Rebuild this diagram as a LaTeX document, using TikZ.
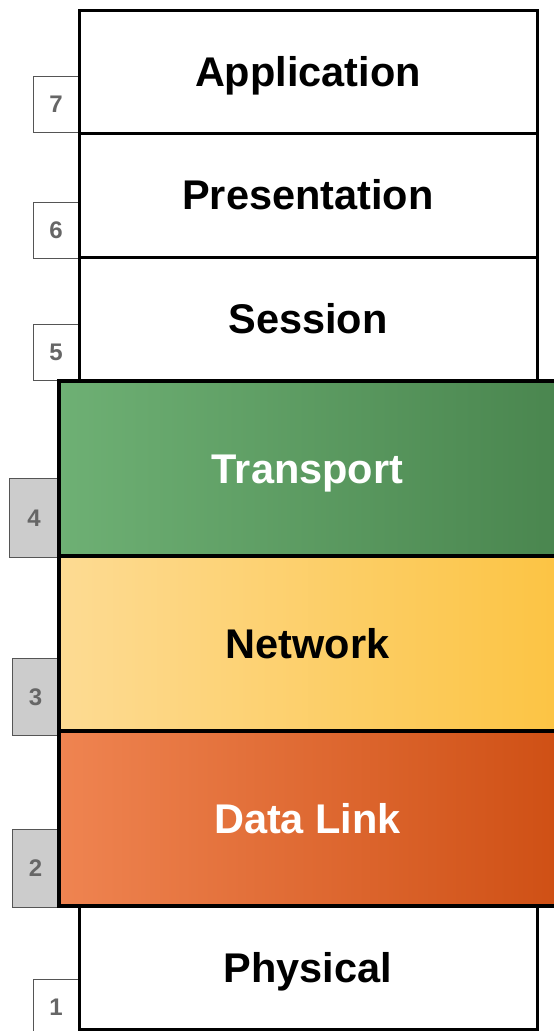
\documentclass[tikz,border=0pt]{standalone}
\usepackage{fontspec}
\setmainfont{Liberation Sans}
\definecolor{gL}{HTML}{6EB074}
\definecolor{gR}{HTML}{4A864F}
\definecolor{yL}{HTML}{FDDB93}
\definecolor{yR}{HTML}{FCC444}
\definecolor{oL}{HTML}{EF8451}
\definecolor{oR}{HTML}{CF5015}
\definecolor{numgray}{HTML}{666666}
\definecolor{tabgray}{HTML}{CCCCCC}
\definecolor{tabedge}{HTML}{555555}
\tikzset{
  layer/.style={draw=black, line width=3pt, fill=white, inner sep=0pt,
    minimum width=458pt, minimum height=123pt,
    font=\fontsize{41.5}{45}\selectfont\bfseries, text height=29.7pt, text depth=0pt},
  clayer/.style={draw=black, line width=4pt, inner sep=0pt,
    minimum width=497pt, minimum height=175pt,
    font=\fontsize{41.5}{45}\selectfont\bfseries, text height=29.7pt, text depth=0pt},
  tab/.style={draw=tabedge, line width=0.8pt, fill=white, inner sep=0pt,
    minimum width=46pt, minimum height=56pt, text=numgray,
    font=\fontsize{24}{28}\selectfont\bfseries, text height=17.2pt, text depth=0pt},
  gtab/.style={tab, fill=tabgray}
}
\begin{document}
\begin{tikzpicture}[x=1pt, y=-1pt]
\useasboundingbox (0,0) rectangle (554,1031);
% side tabs
\node[tab] (n7) at (56,104) {7};
\node[tab] (n6) at (56,230) {6};
\node[tab] (n5) at (56,352) {5};
\node[gtab, minimum width=50pt, minimum height=79pt] (n4) at (34,517.5) {4};
\node[gtab, minimum width=47pt, minimum height=77pt] (n3) at (35.5,696.5) {3};
\node[gtab, minimum width=47pt, minimum height=78pt] (n2) at (35.5,868) {2};
\node[tab] (n1) at (56,1007) {1};
% white layers
\node[layer] (app) at (308,71.5) {Application};
\node[layer, minimum height=124pt] (pres) at (308,195) {Presentation};
\node[layer] (sess) at (308,318.5) {Session};
\node[layer] (phys) at (308,967.5) {Physical};
% coloured layers
\node[clayer, left color=gL, right color=gR, text=white] (trans) at (307.5,468.5) {Transport};
\node[clayer, left color=yL, right color=yR, text=black] (net) at (307.5,643.5) {Network};
\node[clayer, left color=oL, right color=oR, text=white] (dl) at (307.5,818.5) {Data Link};
\end{tikzpicture}
\end{document}
